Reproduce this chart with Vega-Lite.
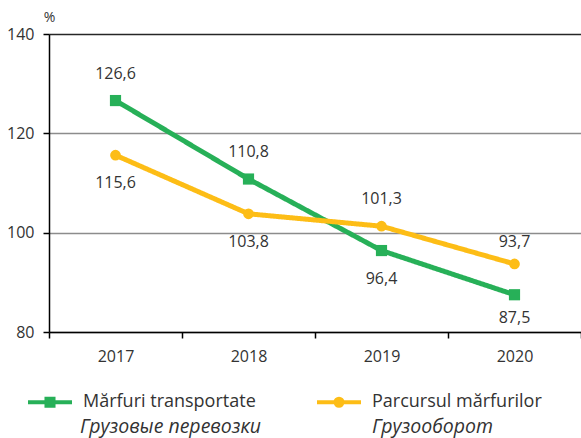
{
  "$schema": "https://vega.github.io/schema/vega-lite/v6.json",
  "width": 532,
  "height": 298,
  "autosize": {"type": "none"},
  "padding": {"left": 49, "top": 34, "right": 0, "bottom": 106},
  "config": {
    "font": "Open Sans",
    "view": {"stroke": null},
    "locale": {"number": {"decimal": ",", "thousands": " ", "grouping": [3], "currency": ["", ""]}},
    "legend": {"padding": 0, "labelLimit": 400}
  },
  "title": {
    "text": "(предыдущий год = 100)",
    "fontStyle": "italic",
    "fontWeight": "normal",
    "fontSize": 18,
    "color": "#333333",
    "anchor": "middle",
    "baseline": "alphabetic",
    "offset": 25,
    "dx": -22
  },
  "data": {
    "values": [
      {"year": "2017", "series": "Mărfuri transportate", "ru": "Грузовые перевозки", "value": 126.6},
      {"year": "2018", "series": "Mărfuri transportate", "ru": "Грузовые перевозки", "value": 110.8},
      {"year": "2019", "series": "Mărfuri transportate", "ru": "Грузовые перевозки", "value": 96.4},
      {"year": "2020", "series": "Mărfuri transportate", "ru": "Грузовые перевозки", "value": 87.5},
      {"year": "2017", "series": "Parcursul mărfurilor", "ru": "Грузооборот", "value": 115.6},
      {"year": "2018", "series": "Parcursul mărfurilor", "ru": "Грузооборот", "value": 103.8},
      {"year": "2019", "series": "Parcursul mărfurilor", "ru": "Грузооборот", "value": 101.3},
      {"year": "2020", "series": "Parcursul mărfurilor", "ru": "Грузооборот", "value": 93.7}
    ]
  },
  "encoding": {
    "x": {
      "field": "year",
      "type": "ordinal",
      "scale": {"type": "band", "paddingInner": 0, "paddingOuter": 0},
      "axis": {
        "title": null,
        "tickBand": "extent",
        "labelAngle": 0,
        "labelFontSize": 16,
        "labelColor": "#333333",
        "labelPadding": 10,
        "tickSize": 6,
        "tickColor": "#000000",
        "tickWidth": 1.5,
        "domainColor": "#000000",
        "domainWidth": 1.5,
        "grid": false
      }
    },
    "y": {
      "field": "value",
      "type": "quantitative",
      "scale": {"domain": [80, 140]},
      "axis": {
        "values": [80, 100, 120, 140],
        "title": "%",
        "titleAngle": 0,
        "titleX": 0,
        "titleY": -17,
        "titleAlign": "center",
        "titleBaseline": "middle",
        "titleFontWeight": "normal",
        "titleFontSize": 14,
        "titleColor": "#333333",
        "labelFontSize": 16,
        "labelColor": "#333333",
        "labelPadding": 9,
        "tickSize": 6,
        "tickColor": "#000000",
        "tickWidth": 1.5,
        "domainColor": "#000000",
        "domainWidth": 1.5,
        "gridColor": {"condition": {"test": "datum.value == 140", "value": "#262626"}, "value": "#8c8c8c"},
        "gridWidth": 1.5
      }
    }
  },
  "layer": [
    {
      "mark": {"type": "line", "strokeWidth": 5},
      "encoding": {
        "color": {
          "field": "series",
          "type": "nominal",
          "scale": {"domain": ["Mărfuri transportate", "Parcursul mărfurilor"], "range": ["#27b058", "#fdbd16"]},
          "legend": {
            "orient": "none",
            "legendX": -23,
            "legendY": 344,
            "direction": "horizontal",
            "columns": 2,
            "columnPadding": 53,
            "title": null,
            "labelFontSize": 18,
            "labelColor": "#333333",
            "labelOffset": 9,
            "labelLimit": 400,
            "symbolSize": 1936,
            "symbolStrokeWidth": 4,
            "symbolType": "M-1,0H1",
            "encode": {
              "symbols": {
                "update": {
                  "shape": {"signal": "datum.value === 'Mărfuri transportate' ? 'M-1,0H1M-0.16,-0.16H0.16V0.16H-0.16Z' : 'M-1,0H1M0.16,0A0.16,0.16,0,1,1,-0.16,0A0.16,0.16,0,1,1,0.16,0Z'"},
                  "fill": {"signal": "datum.value === 'Mărfuri transportate' ? '#27b058' : '#fdbd16'"}
                }
              }
            }
          }
        },
        "strokeDash": {
          "field": "ru",
          "type": "nominal",
          "scale": {"domain": ["Грузовые перевозки", "Грузооборот"], "range": [[1, 0], [1, 0]]},
          "legend": {
            "orient": "none",
            "legendX": -23,
            "legendY": 371,
            "direction": "horizontal",
            "columns": 2,
            "columnPadding": 57,
            "title": null,
            "labelFontSize": 19.5,
            "labelFontStyle": "italic",
            "labelColor": "#333333",
            "labelOffset": 10,
            "labelLimit": 400,
            "symbolSize": 1936,
            "symbolOpacity": 0,
            "symbolStrokeWidth": 0
          }
        }
      }
    },
    {
      "transform": [{"filter": "datum.series == 'Mărfuri transportate'"}],
      "mark": {"type": "point", "filled": true, "opacity": 1, "size": 125, "shape": "square"},
      "encoding": {"color": {"field": "series", "type": "nominal", "legend": null}}
    },
    {
      "transform": [{"filter": "datum.series == 'Parcursul mărfurilor'"}],
      "mark": {"type": "point", "filled": true, "opacity": 1, "size": 115, "shape": "circle"},
      "encoding": {"color": {"field": "series", "type": "nominal", "legend": null}}
    },
    {
      "transform": [{"filter": "(datum.series == 'Mărfuri transportate' && (datum.year == '2017' || datum.year == '2018')) || (datum.series == 'Parcursul mărfurilor' && datum.year == '2019')"}],
      "mark": {"type": "text", "dy": -27, "fontSize": 16, "color": "#333333"},
      "encoding": {"text": {"field": "value", "type": "quantitative", "format": ".1f"}}
    },
    {
      "transform": [{"filter": "datum.series == 'Parcursul mărfurilor' && datum.year == '2020'"}],
      "mark": {"type": "text", "dy": -22, "fontSize": 16, "color": "#333333"},
      "encoding": {"text": {"field": "value", "type": "quantitative", "format": ".1f"}}
    },
    {
      "transform": [{"filter": "(datum.series == 'Parcursul mărfurilor' && (datum.year == '2017' || datum.year == '2018')) || (datum.series == 'Mărfuri transportate' && datum.year == '2019')"}],
      "mark": {"type": "text", "dy": 28, "fontSize": 16, "color": "#333333"},
      "encoding": {"text": {"field": "value", "type": "quantitative", "format": ".1f"}}
    },
    {
      "transform": [{"filter": "datum.series == 'Mărfuri transportate' && datum.year == '2020'"}],
      "mark": {"type": "text", "dy": 23, "fontSize": 16, "color": "#333333"},
      "encoding": {"text": {"field": "value", "type": "quantitative", "format": ".1f"}}
    }
  ]
}
